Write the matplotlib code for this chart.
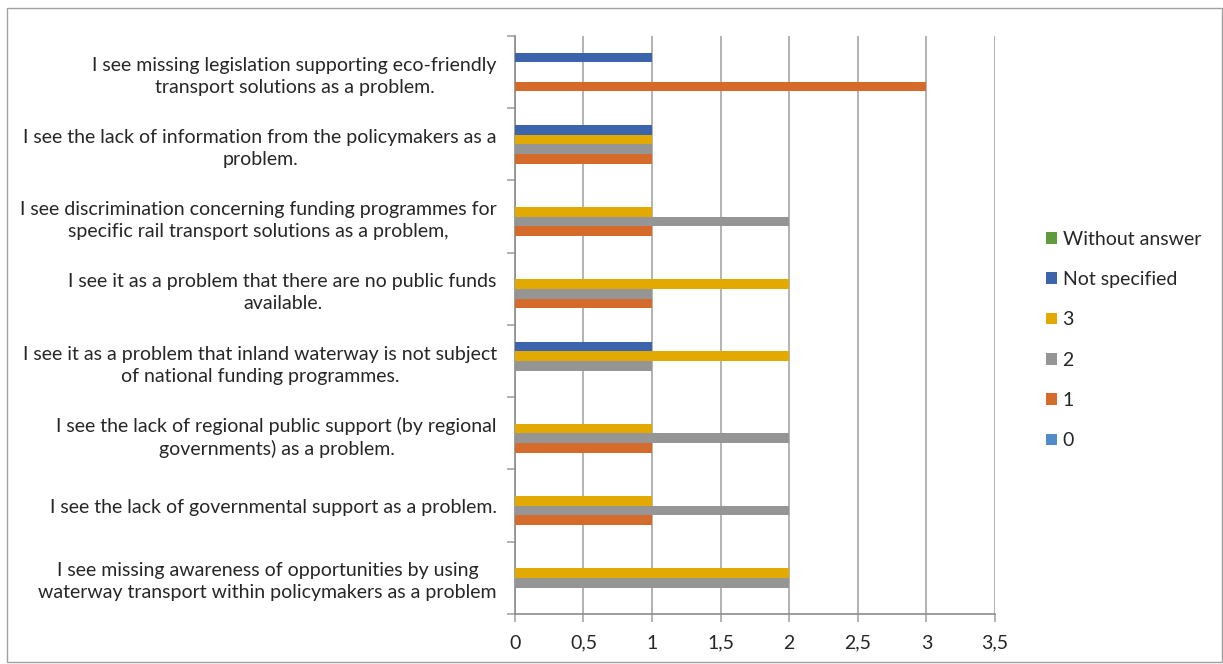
import numpy as np
import matplotlib
matplotlib.use('Agg')
import matplotlib.pyplot as plt
from matplotlib.patches import Rectangle
from matplotlib.ticker import FuncFormatter, MultipleLocator

plt.rcParams['font.family'] = ['Lato', 'DejaVu Sans']

# categories, bottom to top
categories = [
    "I see missing awareness of opportunities by using\nwaterway transport within policymakers as a problem",
    "I see the lack of governmental support as a problem.",
    "I see the lack of regional public support (by regional\ngovernments) as a problem.",
    "I see it as a problem that inland waterway is not subject\nof national funding programmes.",
    "I see it as a problem that there are no public funds\navailable.",
    "I see discrimination concerning funding programmes for\nspecific rail transport solutions as a problem,",
    "I see the lack of information from the policymakers as a\nproblem.",
    "I see missing legislation supporting eco-friendly\ntransport solutions as a problem.",
]

series_names = ["0", "1", "2", "3", "Not specified", "Without answer"]
vals_0 = [0, 0, 0, 0, 0, 0, 0, 0]
vals_1 = [0, 1, 1, 0, 1, 1, 1, 3]
vals_2 = [2, 2, 2, 1, 1, 2, 1, 0]
vals_3 = [2, 1, 1, 2, 2, 1, 1, 0]
vals_not_specified = [0, 0, 0, 1, 0, 0, 1, 1]
vals_without = [0, 0, 0, 0, 0, 0, 0, 0]
series_vals = [vals_0, vals_1, vals_2, vals_3, vals_not_specified, vals_without]
colors = ["#4F8CC9", "#D46B2A", "#959595", "#E2AA00", "#3B64AD", "#5F9B3C"]

text_color = "#262626"
grid_color = "#A6A6A6"

fig = plt.figure(figsize=(12.23, 6.64), dpi=100)
ax = fig.add_axes([0.421, 0.0753, 0.3926, 0.8705])

y = np.arange(len(categories))
group = 0.8
slot = group / len(series_names)
for i, (name, vals) in enumerate(zip(series_names, series_vals)):
    off = -group / 2 + slot * (i + 0.5)
    ax.barh(y + off, vals, height=slot, color=colors[i], label=name, zorder=3)

ax.set_xlim(0, 3.5)
ax.set_ylim(-0.5, len(categories) - 0.5)
ax.xaxis.set_major_locator(MultipleLocator(0.5))
ax.xaxis.set_major_formatter(FuncFormatter(lambda v, p: f"{v:g}".replace('.', ',')))
ax.grid(axis='x', color=grid_color, linewidth=1.2, zorder=0)

ax.set_yticks(y)
ax.set_yticklabels(categories, multialignment='center', linespacing=1.35)
ax.set_yticks(np.arange(-0.5, len(categories)), minor=True)
ax.tick_params(axis='y', which='major', length=0, pad=13, labelsize=14, labelcolor=text_color)
ax.tick_params(axis='y', which='minor', length=6, color=grid_color, width=1.2)
ax.tick_params(axis='x', length=6, color=grid_color, width=1.2, labelsize=14,
               labelcolor=text_color, pad=9)

for s in ['top', 'right']:
    ax.spines[s].set_visible(False)
for s in ['left', 'bottom']:
    ax.spines[s].set_color('#8C8C8C')
    ax.spines[s].set_linewidth(1.2)

handles, labels = ax.get_legend_handles_labels()
leg = fig.legend(handles[::-1], labels[::-1], loc='upper left',
                 bbox_to_anchor=(0.841, 0.679), frameon=False, fontsize=14,
                 labelspacing=1.2, handlelength=0.55, handleheight=0.55,
                 handletextpad=0.3, labelcolor=text_color)

fig.patches.append(Rectangle((0.006, 0.003), 0.993, 0.985, transform=fig.transFigure,
                             fill=False, edgecolor='#A0A0A0', linewidth=1))

fig.savefig("out.png", dpi=100)
